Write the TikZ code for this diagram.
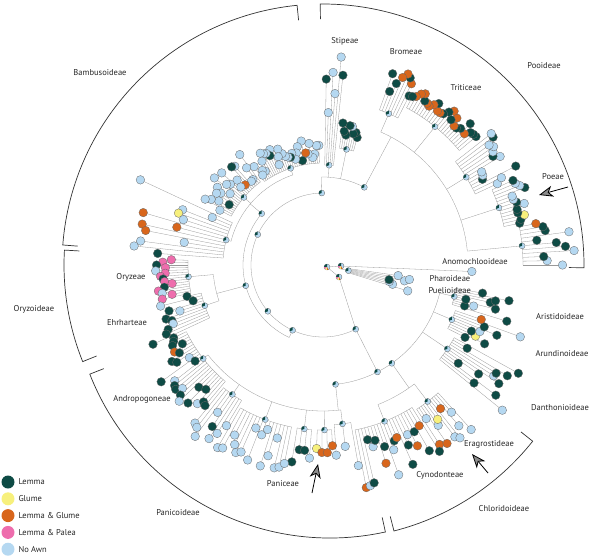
\documentclass[tikz,border=0pt]{standalone}
\usepackage{fontspec}
\setmainfont{PT Sans}
\usetikzlibrary{arrows.meta}

% awn states
\definecolor{L}{HTML}{0E4B45}
\definecolor{G}{HTML}{F7F07C}
\definecolor{O}{HTML}{D8661C}
\definecolor{P}{HTML}{EE6DAD}
\definecolor{N}{HTML}{B5D8F1}

\tikzset{
  branch/.style={draw=black!40, line width=0.3pt},
  bracket/.style={draw=black!80, line width=0.7pt},
  awndot/.style={fill=#1, draw=black!60, line width=0.3pt},
  clade/.style={font=\fontsize{8.5}{10}\selectfont, text=black!85},
  key/.style={circle, minimum size=13pt, inner sep=0pt, fill=#1},
  pointer/.style={draw=black, line width=0.8pt, -{Stealth[length=14pt, width=11pt, inset=4pt, fill=black!45]}}
}

% pie on an inner node
\newcommand{\innode}[2]{%
  \fill[awndot=N] (#1:#2) circle[radius=3];
  \fill[L] (#1:#2) -- ++(90:3) arc[start angle=90, end angle=200, radius=3] -- cycle;
}

% fan of tips: angles #1-#2, stem from #3, base arc #4, tips #5-#6, states #7
% first pass draws the branches, second pass the dots
\newif\ifdotpass
\newcommand{\fan}[7]{%
  \foreach \col [count=\k] in {#7} {\xdef\ntip{\k}}
  \pgfmathsetmacro\dang{(#2-#1)/max(\ntip-1,1)}
  \pgfmathsetmacro\amid{(#1+#2)/2}
  \ifdotpass\else
    \draw[branch] (\amid:#3) -- (\amid:#4);
    \draw[branch] (#1:#4) arc[start angle=#1, end angle=#2, radius=#4];
  \fi
  \foreach \col [count=\k] in {#7} {
    \pgfmathsetmacro\ang{#1+(\k-1)*\dang}
    \pgfmathsetmacro\rtip{#5+rnd*(#6-#5)}
    \ifdotpass
      \fill[awndot=\col] (\ang:\rtip) circle[radius=4.3];
    \else
      \draw[branch] (\ang:#4) -- (\ang:\rtip);
    \fi
  }
  \ifdotpass\innode{\amid}{#4}\fi
}

\newcommand{\alltips}{%
  % Pooideae
  \fan{84}{89}{88}{100}{150}{212}{L,N,N,N,N,L}
  \fan{75}{82}{88}{118}{128}{150}{L,L,L,N,L,L,L,L}
  \fan{63}{70}{145}{165}{180}{212}{L,O,L,O,O,L,L,L}
  \fan{40}{62}{145}{178}{190}{205}{L,L,L,O,L,L,L,O,O,L,O,L,L,O,O,L,O,O,O,L,O,O,O,L}
  \fan{25}{38}{145}{168}{178}{222}{N,N,L,L,N,N,N,L,N,N,N,L,N}
  \fan{12}{24}{145}{185}{195}{222}{L,L,G,L,L,N,L,N,N,L,N,N,L}
  \fan{0}{11}{145}{200}{215}{255}{N,N,L,N,L,L,L,N,L,L,O}
  % Pharoideae, Puelioideae
  \fan{343}{352}{18}{26}{62}{95}{N,N,N,L,N,N,N}
  % PACMAD
  \fan{343}{350}{120}{135}{145}{200}{L,L,N,L,L,L,L,L,L}
  \fan{333}{341}{120}{140}{150}{212}{L,L,G,L,N,L,L,N,O}
  \fan{321}{331}{120}{150}{165}{240}{N,L,L,L,L,L,N,L,L,L,L}
  \fan{303}{312}{150}{172}{185}{222}{O,N,O,N,G,N,N,O,N,N,N}
  \fan{281}{302}{150}{168}{180}{228}{O,N,L,L,N,L,O,L,N,N,L,O,L,L,N,O,L,L,O,L}
  \fan{274}{280}{146}{160}{170}{225}{N,N,N}
  \fan{268}{273}{146}{165}{178}{190}{G,O,O,O}
  \fan{261}{266}{146}{165}{186}{205}{L,L,L,N}
  \fan{240}{259}{146}{165}{172}{222}{N,N,N,N,N,N,N,N,N,N,N,N,N,N,N,N}
  \fan{231}{239}{146}{158}{165}{215}{N,N,N,N,L,N,N,N}
  \fan{206}{230}{146}{152}{158}{200}{L,L,L,L,O,L,L,L,N,L,L,N,L,L,N,L,N,L,L,L,N,L,L}
  % Oryzoideae
  \fan{178}{192}{110}{135}{150}{168}{P,P,L,P,N,P,P,L,P,P,L,P,N,P,P}
  \fan{193}{205}{110}{125}{132}{192}{L,N,L,L,N,L,L,N,L,L,L}
  % Bambusoideae
  \fan{92}{125}{95}{102}{106}{130}{N,N,N,N,N,N,O,N,L,N,N,N,N,L,N,N,N,N,N,N,N,L,N,N,N,N,N,N,N,N}
  \fan{127}{152}{95}{104}{110}{140}{N,N,N,N,N,L,O,N,N,N,N,N,N,N,N,N,N,L,N,N,N,N}
  \fan{155}{176}{95}{100}{120}{212}{N,N,N,G,N,O,O,O,O,N,N,N,L}
}

% subfamily bracket: centre #1, angles #2-#3, radius #4
\newcommand{\subfam}[4]{%
  \begin{scope}[shift={#1}]
    \draw[bracket] (#2:#4-15) -- (#2:#4) arc[start angle=#2, end angle=#3, radius=#4] -- (#3:#4-15);
  \end{scope}
}

\begin{document}
\begin{tikzpicture}[x=1pt, y=1pt]
\useasboundingbox (0,0) rectangle (600,-557);

\begin{scope}[shift={(323,-265)}]
  % backbone
  \draw[branch] (4,-2) -- (18,-1) -- (357.5:149);
  \draw[branch] (4,-2) -- (16,-12) -- (297:72);
  \draw[branch] (297:72) arc[start angle=297, end angle=91, radius=72];
  \draw[branch] (297:72) -- (297:120);
  \draw[branch] (276:120) arc[start angle=276, end angle=346.5, radius=120];
  \draw[branch] (245:72) -- (245:80) arc[start angle=245, end angle=140, radius=80];
  \draw[branch] (195:80) -- (195:110);
  \draw[branch] (185:110) arc[start angle=185, end angle=199, radius=110];
  \draw[branch] (140:80) -- (140:95);
  \draw[branch] (108.5:95) arc[start angle=108.5, end angle=165.5, radius=95];
  \draw[branch] (91:72) -- (91:88);
  \draw[branch] (62:88) arc[start angle=62, end angle=91, radius=88];
  \draw[branch] (62:88) -- (62:145);
  \draw[branch] (5.5:145) arc[start angle=5.5, end angle=66.5, radius=145];
  \draw[branch] (305:120) -- (305:150);
  \draw[branch] (291.5:150) arc[start angle=291.5, end angle=307.5, radius=150];
  \draw[branch] (276:120) -- (276:146);
  \draw[branch] (218:146) arc[start angle=218, end angle=277, radius=146];

  \dotpassfalse \pgfmathsetseed{11} \alltips
  \dotpasstrue \pgfmathsetseed{11} \alltips

  \fill[awndot=N] (357.5:149) circle[radius=4.3];
  \foreach \a/\r in {297/72, 245/72, 195/80, 140/80, 91/72, 62/88, 297/120, 305/120, 276/120, 155/72, 220/72}
    {\innode{\a}{\r}}
  % root
  \foreach \p in {(4,-2), (18,-1), (16,-12)} {
    \fill[awndot=N] \p circle[radius=3];
    \fill[L] \p -- ++(90:3) arc[start angle=90, end angle=180, radius=3] -- cycle;
    \fill[P] \p -- ++(180:3) arc[start angle=180, end angle=230, radius=3] -- cycle;
    \fill[G] \p -- ++(230:3) arc[start angle=230, end angle=270, radius=3] -- cycle;
    \fill[O] \p -- ++(270:3) arc[start angle=270, end angle=300, radius=3] -- cycle;
  }
\end{scope}

% subfamilies
\subfam{(323,-265)}{90.6}{-0.6}{261}
\subfam{(323,-265)}{95.7}{175.6}{261}
\subfam{(323,-265)}{176.7}{201.9}{259}
\subfam{(330,-280)}{201.4}{282.4}{258}
\subfam{(330,-280)}{284.3}{321.5}{259}

\node[clade] (bambusoideae) at (100,-73) {Bambusoideae};
\node[clade] (pooideae) at (544,-66) {Pooideae};
\node[clade] (oryzoideae) at (34,-309) {Oryzoideae};
\node[clade] (panicoideae) at (178,-513) {Panicoideae};
\node[clade] (chloridoideae) at (504,-509) {Chloridoideae};
\node[clade] (stipeae) at (345,-41) {Stipeae};
\node[clade] (bromeae) at (406,-52) {Bromeae};
\node[clade] (triticeae) at (466,-88) {Triticeae};
\node[clade] (poeae) at (553,-177) {Poeae};
\node[clade] (anomochloo) at (475,-262) {Anomochlooideae};
\node[clade, anchor=west] (pharoideae) at (426,-279) {Pharoideae};
\node[clade, anchor=west] (puelioideae) at (425,-291) {Puelioideae};
\node[clade] (aristidoideae) at (560,-317) {Aristidoideae};
\node[clade] (arundinoideae) at (562,-354) {Arundinoideae};
\node[clade] (danthonioideae) at (560,-408) {Danthonioideae};
\node[clade] (eragrostideae) at (489,-444) {Eragrostideae};
\node[clade] (cynodonteae) at (440,-475) {Cynodonteae};
\node[clade] (paniceae) at (283,-484) {Paniceae};
\node[clade] (andropogoneae) at (142,-399) {Andropogoneae};
\node[clade] (ehrharteae) at (127,-323) {Ehrharteae};
\node[clade] (oryzeae) at (131,-277) {Oryzeae};

% arrows to the awned lineages
\coordinate (poeae-tail) at (568,-187);
\coordinate (poeae-head) at (539,-195);
\coordinate (erag-tail) at (488,-473);
\coordinate (erag-head) at (472,-454);
\coordinate (pan-tail) at (312,-493);
\coordinate (pan-head) at (318,-464);
\draw[pointer] (poeae-tail) -- (poeae-head);
\draw[pointer] (erag-tail) -- (erag-head);
\draw[pointer] (pan-tail) -- (pan-head);

% legend
\foreach \col/\txt [count=\k] in {L/Lemma, G/Glume, O/Lemma \& Glume, P/Lemma \& Palea, N/No Awn} {
  \node[key=\col] (key\k) at (8,{-482-16.8*(\k-1)}) {};
  \node[clade, anchor=west] (keytext\k) at (15,{-482-16.8*(\k-1)}) {\txt};
}
\end{tikzpicture}
\end{document}
